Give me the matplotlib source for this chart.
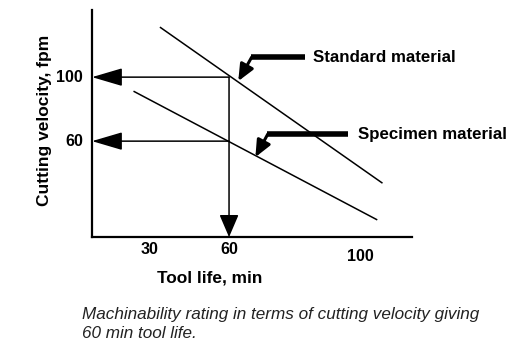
import matplotlib.pyplot as plt

plt.rcParams['font.family'] = ['Liberation Sans', 'DejaVu Sans']

# data (schematic units)
std_x = [34, 118]
std_y = [131, 34]
spec_x = [24, 116]
spec_y = [91, 11]

rated_life = 60
std_speed = 100
spec_speed = 60

x_tick_pos = [30, 60, 110]
x_tick_labels = ['30', '60', '100']
y_tick_pos = [100, 60]
y_tick_labels = ['100', '60']

xmin, xmax = 8, 129.5
ymin, ymax = 0, 142

fig = plt.figure(figsize=(5.24, 3.55), dpi=100)
ax = fig.add_axes([0.1756, 0.332, 0.611, 0.640])

# the two Taylor lines
ax.plot(std_x, std_y, color='black', lw=1.1)
ax.plot(spec_x, spec_y, color='black', lw=1.1)

# projection arrows
arrow_kw = dict(arrowstyle='-|>,head_length=0.95,head_width=0.28',
                mutation_scale=20, color='black', lw=1.1, shrinkA=0, shrinkB=0)
ax.annotate('', xy=(xmin, std_speed), xytext=(rated_life, std_speed),
            arrowprops=arrow_kw)
ax.annotate('', xy=(xmin, spec_speed), xytext=(rated_life, spec_speed),
            arrowprops=arrow_kw)
arrow_kw_v = dict(arrow_kw, arrowstyle='-|>,head_length=0.7,head_width=0.3')
ax.annotate('', xy=(rated_life, ymin), xytext=(rated_life, std_speed),
            arrowprops=arrow_kw_v)

# leader lines with labels
lead_kw = dict(arrowstyle='-|>,head_length=0.5,head_width=0.22',
               mutation_scale=20, color='black', lw=2.2, shrinkA=0, shrinkB=0)
ax.plot([68.4, 88.9], [112.5, 112.5], color='black', lw=4, solid_capstyle='butt')
ax.annotate('', xy=(63.5, 97.5), xytext=(68.6, 112.5), arrowprops=lead_kw)
ax.text(92, 112.5, 'Standard material', fontsize=12.2, fontweight='bold',
        ha='left', va='center')

ax.plot([74.5, 105.2], [64.4, 64.4], color='black', lw=4, solid_capstyle='butt')
ax.annotate('', xy=(70.0, 50.0), xytext=(74.7, 64.4), arrowprops=lead_kw)
ax.text(109, 64.4, 'Specimen material', fontsize=12.2, fontweight='bold',
        ha='left', va='center')

# tick labels
for xp, lab in zip(x_tick_pos, x_tick_labels):
    dy = -12 if lab == '100' else -8
    ax.text(xp, dy, lab, fontsize=11.5, fontweight='bold', ha='center', va='center')
for yp, lab in zip(y_tick_pos, y_tick_labels):
    ax.text(xmin - 3.5, yp, lab, fontsize=11.5, fontweight='bold', ha='right', va='center')

ax.set_xlim(xmin, xmax)
ax.set_ylim(ymin, ymax)
ax.set_xticks([])
ax.set_yticks([])
for s in ['top', 'right']:
    ax.spines[s].set_visible(False)
for s in ['left', 'bottom']:
    ax.spines[s].set_linewidth(1.6)

fig.text(0.085, 0.662, 'Cutting velocity, fpm', rotation=90, fontsize=12.5,
         fontweight='bold', ha='center', va='center')
fig.text(0.401, 0.217, 'Tool life, min', fontsize=12.4, fontweight='bold',
         ha='center', va='center')

fig.text(0.156, 0.088, 'Machinability rating in terms of cutting velocity giving\n60 min tool life.',
         fontsize=12.3, fontstyle='italic', color='#222222', ha='left', va='center',
         linespacing=1.3)

fig.savefig('out.png', dpi=100)
